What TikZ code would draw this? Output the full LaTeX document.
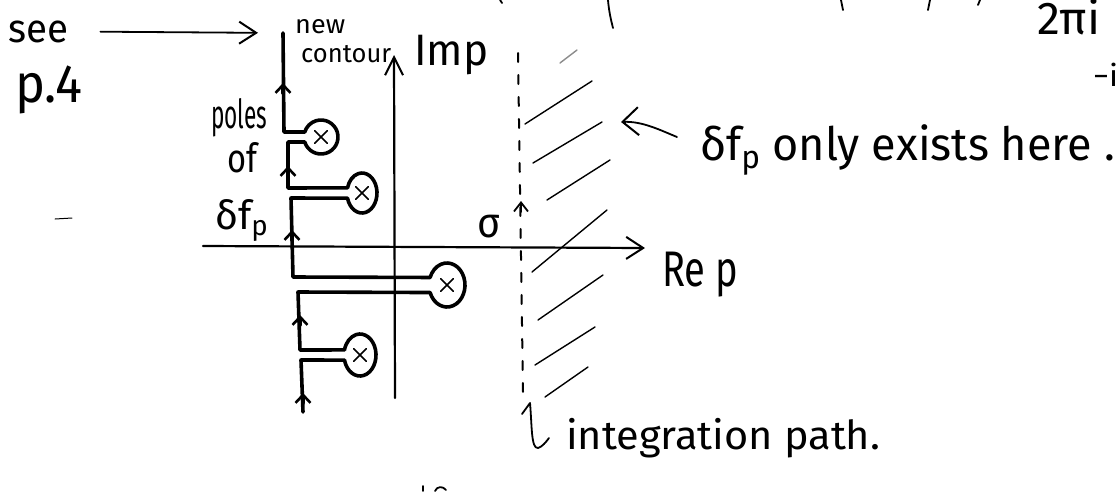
\documentclass[tikz,border=0pt]{standalone}
\usepackage{fontspec}
\setmainfont{Fira Sans}
\usetikzlibrary{arrows.meta,shapes.misc,calc}
% set a word in a box of given width, keeping its natural height
\newcommand{\hw}[2]{\resizebox{#1}{\height}{#2}}
\newcommand{\fs}[1]{\fontsize{#1}{#1}\selectfont}

\begin{document}
\begin{tikzpicture}[x=1pt,y=-1pt,line cap=round,line join=round,
  contour/.style={line width=3.6pt},
  axis/.style={line width=2.2pt},
  hatch/.style={line width=1.4pt},
  frag/.style={line width=1.8pt},
  pen/.style={line width=1.8pt},
  lbl/.style={inner sep=0pt,anchor=base west},
  pole/.style={cross out,draw,minimum size=11pt,inner sep=0pt,line width=1.6pt},
  cbarb/.tip={Straight Barb[length=8pt,width=15pt,line width=2.6pt]},
  bigbarb/.tip={Straight Barb[length=17pt,width=22pt,line width=2pt]},
]
\fill[white] (0,0) rectangle (1120,491);
\useasboundingbox (0,0) rectangle (1120,491);

% ---- labels ----
\node[lbl,font=\fs{40}] (see) at (8,42) {\hw{60pt}{see}};
\node[lbl,font=\fs{54}] (page) at (15,102) {\hw{67pt}{p.4}};
\node[lbl,font=\fs{26}] (newc1) at (295,33) {\hw{50pt}{new}};
\node[lbl,font=\fs{26}] (newc2) at (301,62) {\hw{90pt}{contour}};
\node[lbl,font=\fs{44}] (imp) at (414,65) {\hw{74pt}{Imp}};
\node[lbl,font=\fs{40}] (poles) at (211,128) {\hw{56pt}{poles}};
\node[lbl,font=\fs{40}] (of) at (227,172) {\hw{30pt}{of}};
\node[lbl,font=\fs{40}] (dfp) at (215,229) {\hw{53pt}{δf\textsubscript{p}}};
\node[lbl,font=\fs{42}] (sigma) at (477,237) {\hw{23pt}{σ}};
\node[lbl,font=\fs{50}] (rep) at (662,286) {\hw{76pt}{Re p}};
\node[lbl,font=\fs{46}] (only) at (700,160) {\hw{415pt}{δf\textsubscript{p} only exists here .}};
\node[lbl,font=\fs{40}] (intp) at (566,449) {\hw{314pt}{integration path.}};
\node[lbl,font=\fs{46}] (twopi) at (1037,34) {\hw{63pt}{2πi}};
\node[lbl,font=\fs{30}] (mi) at (1093,86) {\hw{25pt}{−i}};

% ---- axes ----
\draw[axis,-{bigbarb}] (203,246) -- (645,248);
\draw[axis,-{Straight Barb[length=18pt,width=18pt,line width=2pt]}] (395,398) -- (394,55);

% ---- integration path (dashed) and its direction ----
\draw[line width=2pt,dash pattern=on 9pt off 13pt] (518,53) -- (523,392);
\draw[line width=1.8pt,-{Straight Barb[length=9pt,width=14pt,line width=1.8pt]}] (521,212) -- (521,201);

% ---- hatching: region where the transform exists ----
\draw[hatch,black!45] (560,63) -- (577,50);
\foreach \a/\b in {{(525,124)}/{(592,81)},{(533,163)}/{(602,122)},{(547,200)}/{(610,160)},
                   {(532,272)}/{(607,210)},{(538,320)}/{(603,275)},{(535,365)}/{(595,327)},
                   {(545,397)}/{(588,367)}}
  \draw[hatch] \a -- \b;

% ---- poles ----
\node[pole] (p1) at (321,137) {};
\node[pole] (p2) at (362,193) {};
\node[pole] (p3) at (447,285) {};
\node[pole] (p4) at (360,355) {};

% ---- deformed contour with keyholes round the poles ----
\coordinate (cbot) at (303,412);
\coordinate (ctop) at (283,33);
\draw[contour] (cbot) -- (301,360)
  -- ($(p4)+(166:16 and 21)$) arc[start angle=166,end angle=-166,x radius=16,y radius=21]
  -- (300,350) -- (298,292)
  -- ($(p3)+(160:18 and 22)$) arc[start angle=160,end angle=-160,x radius=18,y radius=22]
  -- (293,277) -- (291,198)
  -- ($(p2)+(165:15 and 20)$) arc[start angle=165,end angle=-165,x radius=15,y radius=20]
  -- (288,188) -- (288,142)
  -- ($(p1)+(163:17 and 17)$) arc[start angle=163,end angle=-163,x radius=17,y radius=17]
  -- (284,132) -- (ctop);
% direction marks on the contour
\foreach \x/\y in {283/83,288/166,292/230,300/315,303/393}
  \draw[contour,-{cbarb}] (\x,\y+10) -- (\x,\y);

% ---- pointers ----
\draw[pen,-{bigbarb},shorten <=32pt,shorten >=25pt] (see.east) -- (ctop);
\coordinate (ptail) at (677,137);
\coordinate (phead) at (621,122);
\draw[pen,-{Straight Barb[length=16pt,width=28pt,line width=2pt]}]
  (ptail) .. controls (660,130) and (642,121) .. (phead);
\coordinate (hookend) at (549,438);
\draw[pen] (522,414) -- (530,403) .. controls (532,425) and (531,449) .. (538,448)
  .. controls (542,447) and (546,442) .. (hookend);

% ---- stray marks and cut-off strokes at the page edges ----
\draw[line width=1pt] (55,219) -- (72,218);
\draw[frag] (608,0) .. controls (609,12) and (611,20) .. (613,28);
\draw[frag] (841,0) -- (843,10);
\draw[frag] (930,0) -- (928,10);
\draw[frag] (980,0) -- (978,5);
\draw[frag] (500,0) -- (502,3);
\draw[frag] (423,486) -- (423,491);
\draw[frag] (435,491) .. controls (437,486) and (443,486) .. (446,490);
\end{tikzpicture}
\end{document}
